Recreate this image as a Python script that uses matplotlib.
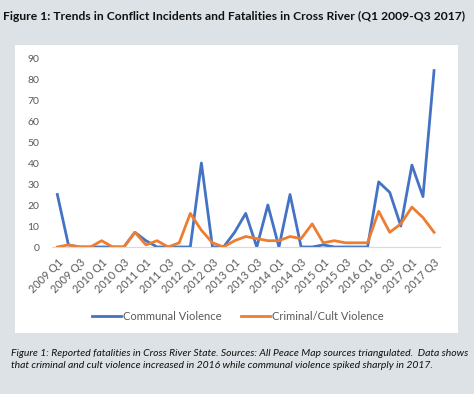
import matplotlib.pyplot as plt
from matplotlib.patches import Rectangle

plt.rcParams['font.family'] = ['Lato', 'DejaVu Sans']

# quarterly data, 2009 Q1 .. 2017 Q3
quarters = [f'{y} Q{q}' for y in range(2009, 2018) for q in range(1, 5)][:35]
communal = [25, 1, 0, 0, 0, 0, 0, 7, 3, 0, 0, 0, 0, 40, 0, 0, 7, 16,
            0, 20, 0, 25, 0, 0, 1, 0, 0, 0, 0, 31, 26, 10, 39, 24, 84]
criminal = [0, 1, 0, 0, 3, 0, 0, 7, 1, 3, 0, 2, 16, 8, 2, 0, 3, 5,
            4, 3, 3, 5, 4, 11, 2, 3, 2, 2, 2, 17, 7, 11, 19, 14, 7]
yticks = list(range(0, 100, 10))

bg = '#dce2e5'
fig = plt.figure(figsize=(4.74, 3.94), dpi=100, facecolor=bg)

# white chart panel
fig.patches.append(Rectangle((15 / 474, 1 - 333 / 394), 443 / 474, 288 / 394,
                             transform=fig.transFigure, facecolor='white',
                             edgecolor='none', zorder=-1))

ax = fig.add_axes([51.8 / 474, 1 - 247 / 394, 387.8 / 474, 189 / 394])
ax.set_zorder(2)
ax.set_facecolor('none')
x = list(range(len(quarters)))
ax.plot(x, communal, color='#4472C4', lw=2.0, label='Communal Violence')
ax.plot(x, criminal, color='#ED7D31', lw=2.0, label='Criminal/Cult Violence')

ax.set_xlim(-0.5, len(quarters) - 0.5)
ax.set_ylim(0, 90)
ax.set_yticks(yticks)
ax.set_xticks(x[::2])
ax.set_xticklabels(quarters[::2], rotation=45, ha='right',
                   rotation_mode='anchor', fontsize=7.8, color='#595959')
ax.tick_params(axis='y', length=0, pad=9, labelsize=7.5, labelcolor='#595959')
ax.tick_params(axis='x', length=0, pad=7)
for s in ['top', 'right', 'left']:
    ax.spines[s].set_visible(False)
ax.spines['bottom'].set_color('#d9d9d9')
ax.spines['bottom'].set_linewidth(0.8)

fig.legend(loc='center', bbox_to_anchor=(238 / 474, 1 - 316 / 394), ncol=2,
           frameon=False, fontsize=8, handlelength=2.6, handletextpad=0.15,
           columnspacing=1.8, labelcolor='#595959')

fig.text(3 / 474, 1 - 16 / 394,
         'Figure 1: Trends in Conflict Incidents and Fatalities in Cross River (Q1 2009-Q3 2017)',
         fontsize=8.7, fontweight='bold', va='center', ha='left', color='#111111')
fig.text(11 / 474, 1 - 353 / 394,
         'Figure 1: Reported fatalities in Cross River State. Sources: All Peace Map sources triangulated.  Data shows',
         fontsize=7.45, style='italic', va='center', ha='left', color='#111111')
fig.text(11 / 474, 1 - 366 / 394,
         'that criminal and cult violence increased in 2016 while communal violence spiked sharply in 2017.',
         fontsize=7.45, style='italic', va='center', ha='left', color='#111111')

fig.savefig('out.png', dpi=100, facecolor=bg)
